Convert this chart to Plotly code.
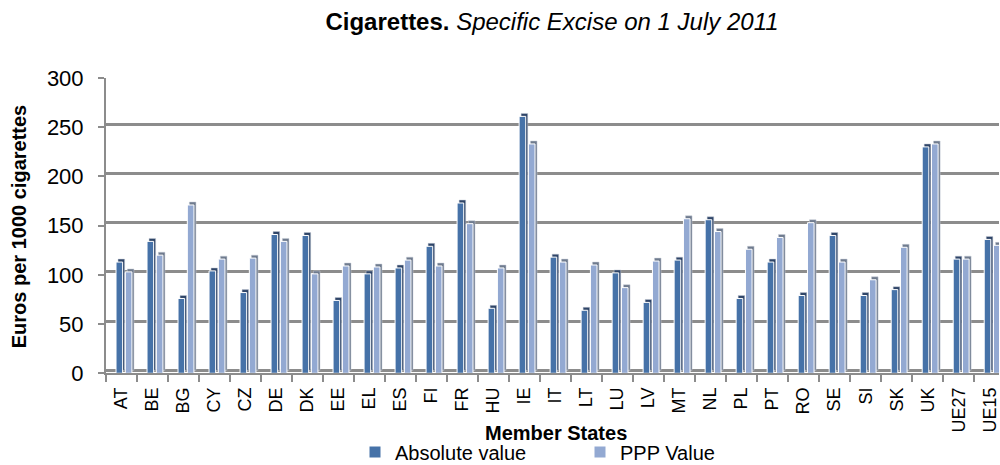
import plotly.graph_objects as go

# Member states and the two excise series (euros per 1000 cigarettes)
states = ["AT", "BE", "BG", "CY", "CZ", "DE", "DK", "EE", "EL", "ES", "FI", "FR",
          "HU", "IE", "IT", "LT", "LU", "LV", "MT", "NL", "PL", "PT", "RO", "SE",
          "SI", "SK", "UK", "UE27", "UE15"]
absolute_value = [113, 134, 76, 104, 82, 141, 140, 74, 101, 107, 129, 173,
                  66, 261, 118, 64, 102, 72, 115, 156, 76, 113, 79, 140,
                  79, 85, 230, 116, 136]
ppp_value = [103, 120, 171, 116, 117, 134, 101, 109, 108, 115, 109, 152,
             107, 233, 113, 110, 87, 114, 157, 144, 126, 138, 153, 113,
             95, 128, 233, 116, 130]
y_ticks = [0, 50, 100, 150, 200, 250, 300]

W, H = 1000, 465
ML, MR, MT, MB = 106, 0, 78, 90
PW, PH = W - ML - MR, H - MT - MB


def paper_x(px):
    return (px - ML) / PW


def paper_y(py):
    return (H - MB - py) / PH


ABS_COLOR = "#4672a8"
PPP_COLOR = "#93a9d2"
ABS_SIDE = "#2f4568"
PPP_SIDE = "#6f7b8e"
GRID = "#8c8c8c"
FONT = "Liberation Sans, Arial, sans-serif"

# bar geometry in category units (one category = 1.0)
ABS_OFF, PPP_OFF, BAR_W, DEPTH = -0.177, 0.123, 0.213, 0.065

fig = go.Figure()

# front faces (front axis y2, drawn above the back-wall layer)
fig.add_trace(go.Bar(x=states, y=absolute_value, name="Absolute value",
                     offset=ABS_OFF, width=BAR_W, yaxis="y2",
                     marker=dict(color=ABS_COLOR, line=dict(color="white", width=1))))
fig.add_trace(go.Bar(x=states, y=ppp_value, name="PPP Value",
                     offset=PPP_OFF, width=BAR_W, yaxis="y2",
                     marker=dict(color=PPP_COLOR, line=dict(color="white", width=1))))

# depth sides, on the back-wall axis so they sit slightly up and to the right
fig.add_trace(go.Bar(x=states, y=absolute_value, showlegend=False, hoverinfo="skip",
                     offset=ABS_OFF + DEPTH, width=BAR_W, yaxis="y",
                     marker=dict(color=ABS_SIDE, line=dict(color="#c9cfd8", width=0.5))))
fig.add_trace(go.Bar(x=states, y=ppp_value, showlegend=False, hoverinfo="skip",
                     offset=PPP_OFF + DEPTH, width=BAR_W, yaxis="y",
                     marker=dict(color=PPP_SIDE, line=dict(color="#c9cfd8", width=0.5))))

fig.update_layout(
    width=W, height=H,
    margin=dict(l=ML, r=MR, t=MT, b=MB, pad=0),
    paper_bgcolor="white", plot_bgcolor="white",
    barmode="overlay",
    font=dict(family=FONT, color="black"),
    title=dict(text="<b>Cigarettes.</b> <i>Specific Excise on 1 July 2011</i>",
               x=0.552, xref="container", xanchor="center",
               y=1 - 22 / H, yref="container", yanchor="middle",
               font=dict(size=24, family=FONT, color="black")),
    xaxis=dict(type="category", range=[-0.5, 28.3],
               showline=True, linecolor=GRID, linewidth=2,
               ticks="outside", tickson="boundaries", ticklen=7,
               tickcolor=GRID, tickwidth=1.5, ticklabelstandoff=5,
               tickangle=-90, tickfont=dict(size=18, family=FONT),
               showgrid=False, fixedrange=True),
    # back wall: gridlines only, shifted up a few pixels
    yaxis=dict(range=[-3, 297], tickvals=y_ticks, showgrid=True,
               gridcolor=GRID, gridwidth=2.5, showticklabels=False,
               ticks="", showline=False, zeroline=False),
    # front axis with labels
    yaxis2=dict(range=[0, 300], overlaying="y", side="left",
                tickvals=y_ticks, showgrid=False, zeroline=False,
                showline=True, linecolor=GRID, linewidth=2,
                ticks="outside", ticklen=6, tickcolor=GRID, tickwidth=1.5,
                ticklabelstandoff=10,
                tickfont=dict(size=22, family=FONT)),
    legend=dict(orientation="h", xref="container", yref="container",
                x=0.355, y=1 - 452 / H, xanchor="left", yanchor="middle",
                font=dict(size=20, family=FONT), entrywidth=180,
                itemwidth=30, bgcolor="rgba(0,0,0,0)"),
    annotations=[
        dict(text="<b>Member States</b>", xref="paper", yref="paper",
             x=paper_x(557), y=paper_y(435), showarrow=False,
             xanchor="center", yanchor="middle",
             font=dict(size=20, family=FONT)),
        dict(text="<b>Euros per 1000 cigarettes</b>", xref="paper", yref="paper",
             x=paper_x(19), y=paper_y(228), showarrow=False, textangle=-90,
             xanchor="center", yanchor="middle",
             font=dict(size=20, family=FONT)),
    ],
)

fig.write_html("out.html")
